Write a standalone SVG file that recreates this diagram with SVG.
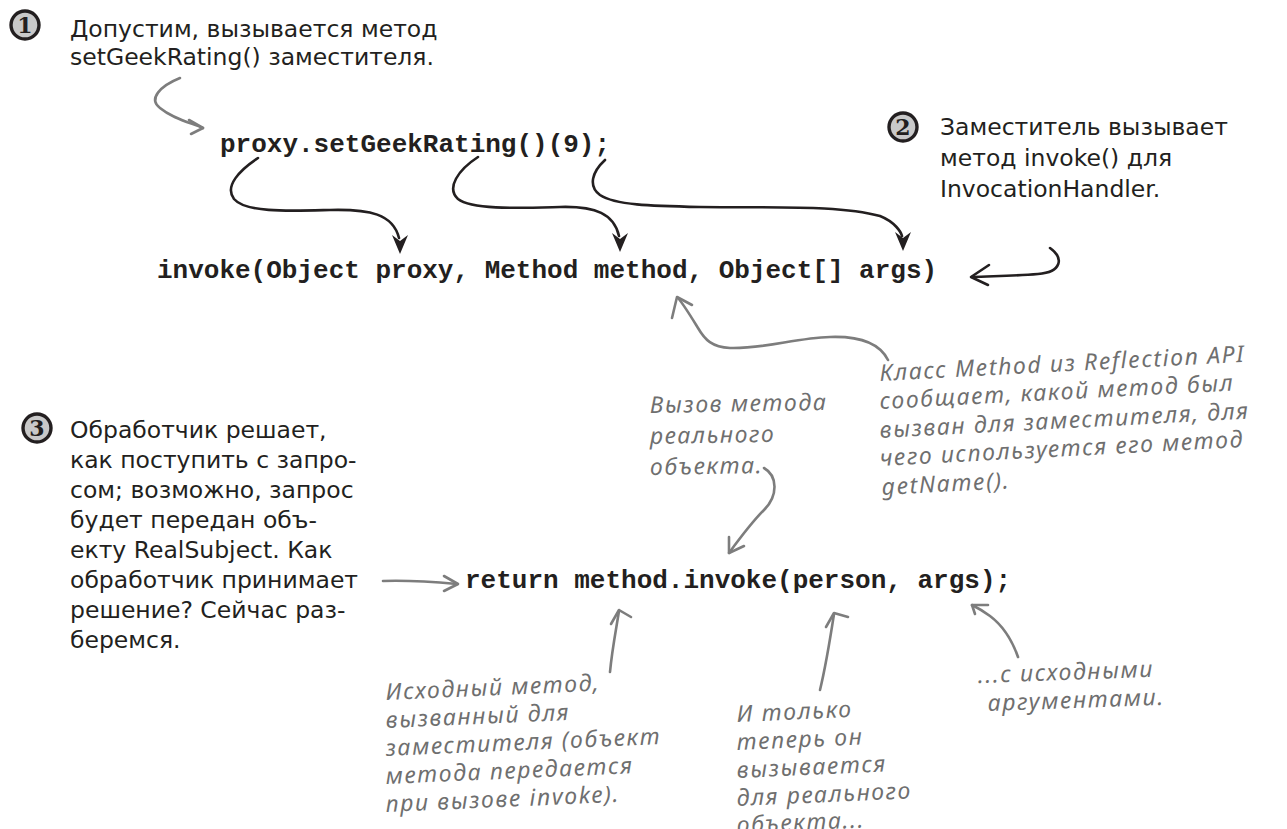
<svg xmlns="http://www.w3.org/2000/svg" width="1287" height="829" viewBox="0 0 1287 829">
<style>
.body{font-family:"DejaVu Sans","Noto Sans",sans-serif;font-size:23.5px;fill:#231f20}
.code{font-family:"Liberation Mono","Courier New",monospace;font-size:26px;font-weight:bold;fill:#231f20}
.hand{font-family:"Noto Sans","DejaVu Sans",sans-serif;font-style:italic;font-size:23px;letter-spacing:1.6px;fill:#6f6f6f}
.num{fill:#c9c9c9;stroke:#231f20;stroke-width:3.4}
.numt{font-family:"DejaVu Serif","Liberation Serif",serif;font-weight:bold;font-size:22px;fill:#231f20;text-anchor:middle}
.blk{fill:none;stroke:#231f20;stroke-width:2.6;stroke-linecap:round;stroke-linejoin:round}
.gry{fill:none;stroke:#7d7d7d;stroke-width:2.6;stroke-linecap:round;stroke-linejoin:round}
.head{fill:#231f20}
</style>
<rect width="1287" height="829" fill="#ffffff"/>

<g id="step1">
<circle class="num" cx="25" cy="25" r="14"/>
<text class="numt" x="25" y="33">1</text>
<text class="body" x="70" y="37">Допустим, вызывается метод</text>
<text class="body" x="70" y="65">setGeekRating() заместителя.</text>
</g>

<g id="step2">
<circle class="num" cx="903" cy="127" r="14"/>
<text class="numt" x="903" y="135">2</text>
<text class="body" x="940" y="135">Заместитель вызывает</text>
<text class="body" x="940" y="166">метод invoke() для</text>
<text class="body" x="940" y="197">InvocationHandler.</text>
</g>

<g id="step3">
<circle class="num" cx="37" cy="428" r="14"/>
<text class="numt" x="37" y="436">3</text>
<text class="body" x="70" y="438">Обработчик решает,</text>
<text class="body" x="70" y="468">как поступить с запро-</text>
<text class="body" x="70" y="498">сом; возможно, запрос</text>
<text class="body" x="70" y="528">будет передан объ-</text>
<text class="body" x="70" y="558">екту RealSubject. Как</text>
<text class="body" x="70" y="588">обработчик принимает</text>
<text class="body" x="70" y="618">решение? Сейчас раз-</text>
<text class="body" x="70" y="648">беремся.</text>
</g>

<g id="code-proxy"><text class="code" x="220" y="152">proxy.setGeekRating()(9);</text></g>
<g id="code-invoke"><text class="code" x="157" y="278">invoke(Object proxy, Method method, Object[] args)</text></g>
<g id="code-return"><text class="code" x="465" y="588">return method.invoke(person, args);</text></g>

<g id="note-method">
<text class="hand" x="880" y="381" transform="rotate(-3 880 381)">Класс Method из Reflection API</text>
<text class="hand" x="880" y="409" transform="rotate(-3 880 409)">сообщает, какой метод был</text>
<text class="hand" x="880" y="438" transform="rotate(-3 880 438)">вызван для заместителя, для</text>
<text class="hand" x="880" y="466" transform="rotate(-3 880 466)">чего используется его метод</text>
<text class="hand" x="882" y="495" transform="rotate(-3 882 495)">getName().</text>
</g>

<g id="note-call">
<text class="hand" x="650" y="413" transform="rotate(-1 650 413)">Вызов метода</text>
<text class="hand" x="650" y="444" transform="rotate(-1 650 444)">реального</text>
<text class="hand" x="650" y="475" transform="rotate(-1 650 475)">объекта.</text>
</g>

<g id="note-original">
<text class="hand" x="386" y="700" transform="rotate(-2.5 386 700)">Исходный метод,</text>
<text class="hand" x="386" y="728" transform="rotate(-2.5 386 728)">вызванный для</text>
<text class="hand" x="386" y="756" transform="rotate(-2.5 386 756)">заместителя (объект</text>
<text class="hand" x="386" y="784" transform="rotate(-2.5 386 784)">метода передается</text>
<text class="hand" x="386" y="812" transform="rotate(-2.5 386 812)">при вызове invoke).</text>
</g>

<g id="note-only">
<text class="hand" x="737" y="722" transform="rotate(-2.5 737 722)">И только</text>
<text class="hand" x="737" y="750" transform="rotate(-2.5 737 750)">теперь он</text>
<text class="hand" x="737" y="778" transform="rotate(-2.5 737 778)">вызывается</text>
<text class="hand" x="737" y="806" transform="rotate(-2.5 737 806)">для реального</text>
<text class="hand" x="737" y="833" transform="rotate(-2.5 737 833)">объекта...</text>
</g>

<g id="note-args">
<text class="hand" x="978" y="683" transform="rotate(-2 978 683)">...с исходными</text>
<text class="hand" x="988" y="711" transform="rotate(-2 988 711)">аргументами.</text>
</g>

<g id="connectors">
<path class="blk" d="M258,158 C240,170 224,186 234,199 C246,213 290,211 330,210 C370,209 393,214 399,238"/>
<polygon class="head" points="400,254 392,235 400,241 408,235"/>
<path class="blk" d="M478,157 C458,170 446,188 458,199 C472,210 520,208 560,207 C596,206 614,214 619,236"/>
<polygon class="head" points="620,252 612,233 620,239 628,233"/>
<path class="blk" d="M605,160 C592,172 588,186 600,195 C615,205 650,206 700,207 C780,208 840,205 880,216 C895,222 901,232 902,236"/>
<polygon class="head" points="903,251 895,232 903,238 911,232"/>
<path class="blk" d="M1050,248 C1064,258 1062,272 1038,274 C1015,276 995,276 972,277"/>
<path class="blk" d="M989,265 L971,277 L988,285"/>

<path class="gry" d="M180,78 C160,86 148,99 160,108 C172,118 188,122 203,128"/>
<path class="gry" d="M189,120 L203,128 L191,134"/>
<path class="gry" d="M888,360 C880,344 860,336 830,337 C795,338 765,349 730,348 C712,347 705,340 698,328 C690,315 684,305 678,298"/>
<path class="gry" d="M672,318 L677,297 L692,305"/>
<path class="gry" d="M764,468 C778,476 778,496 764,510 C752,522 740,538 729,553"/>
<path class="gry" d="M744,546 L729,553 L729,537"/>
<path class="gry" d="M383,581 C410,580 435,582 457,584"/>
<path class="gry" d="M444,576 L458,584 L444,591"/>
<path class="gry" d="M610,672 C612,650 616,630 619,611"/>
<path class="gry" d="M611,624 L619,610 L631,617"/>
<path class="gry" d="M820,690 C826,665 830,640 834,614"/>
<path class="gry" d="M826,627 L834,613 L848,617"/>
<path class="gry" d="M1018,657 C1012,640 1002,625 990,616 C982,610 976,607 972,605"/>
<path class="gry" d="M988,605 L972,605 L975,614"/>
</g>
</svg>
